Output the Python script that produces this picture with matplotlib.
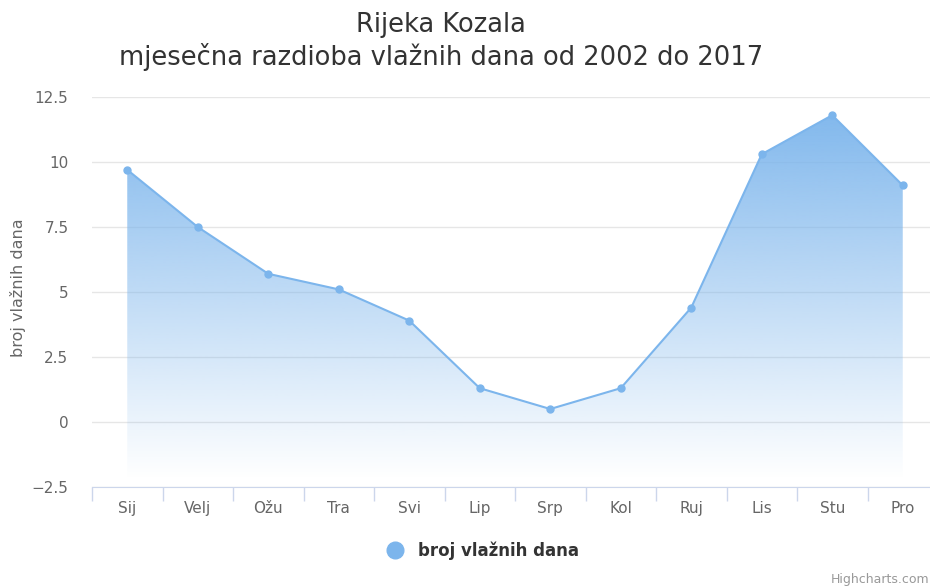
import matplotlib
matplotlib.use("Agg")
import matplotlib.pyplot as plt
import numpy as np
from matplotlib.patches import Polygon
from matplotlib.lines import Line2D

months = ["Sij", "Velj", "Ožu", "Tra", "Svi", "Lip", "Srp", "Kol", "Ruj", "Lis", "Stu", "Pro"]
wet_days = [9.7, 7.5, 5.7, 5.1, 3.9, 1.3, 0.5, 1.3, 4.4, 10.3, 11.8, 9.1]
y_ticks = [-2.5, 0, 2.5, 5, 7.5, 10, 12.5]
y_tick_labels = ["−2.5", "0", "2.5", "5", "7.5", "10", "12.5"]

line_color = "#7cb5ec"
plt.rcParams['font.family'] = ['DejaVu Sans']

fig = plt.figure(figsize=(9.3, 5.87), dpi=100)
# plot area runs a little past the right edge, as in the cropped screenshot
ax = fig.add_axes([92/930, 1 - 487/587, 846/930, 390/587])

x = np.arange(len(months))
ax.set_xlim(-0.5, len(months) - 0.5)
ax.set_ylim(-2.5, 12.5)

# gradient area, fading out below zero
fill_bottom = -2.2
top = max(wet_days)
grad = np.linspace(1, 0, 256).reshape(-1, 1)
rgba = np.zeros((256, 1, 4))
rgba[..., :3] = matplotlib.colors.to_rgb(line_color)
rgba[..., 3] = 0.95 * grad
im = ax.imshow(rgba, extent=[x[0], x[-1], fill_bottom, top], aspect="auto",
               origin="upper", zorder=2, interpolation="bilinear")
verts = [(x[0], fill_bottom)] + list(zip(x, wet_days)) + [(x[-1], fill_bottom)]
clip = Polygon(verts, closed=True, transform=ax.transData, facecolor="none", edgecolor="none")
ax.add_patch(clip)
im.set_clip_path(clip)

ax.plot(x, wet_days, color=line_color, lw=1.5, marker="o", ms=5, zorder=3)

ax.set_yticks(y_ticks)
ax.set_yticklabels(y_tick_labels)
ax.yaxis.grid(True, color="#e6e6e6", lw=1)
ax.set_axisbelow(True)
ax.tick_params(axis="y", length=0, pad=17, labelsize=11, labelcolor="#666666")

ax.set_xticks(x)
ax.set_xticklabels(months)
ax.tick_params(axis="x", which="major", length=0, pad=10, labelsize=11, labelcolor="#666666")
ax.set_xticks(np.arange(-0.5, len(months), 1), minor=True)
ax.tick_params(axis="x", which="minor", length=10, color="#ccd6eb", width=1)

for s in ["top", "right", "left"]:
    ax.spines[s].set_visible(False)
ax.spines["bottom"].set_color("#ccd6eb")
ax.spines["bottom"].set_zorder(4)

ax.set_ylabel("broj vlažnih dana", fontsize=11.5, color="#666666")
ax.yaxis.set_label_coords(-66/846, 0.51)

fig.text(441/930, 1 - 25/587, "Rijeka Kozala", ha="center", va="center", fontsize=18.5, color="#333333")
fig.text(441/930, 1 - 57/587, "mjesečna razdioba vlažnih dana od 2002 do 2017", ha="center",
         va="center", fontsize=18.5, color="#333333")

handle = Line2D([], [], color=line_color, marker="o", ls="none", ms=12)
fig.legend([handle], ["broj vlažnih dana"], loc="center", bbox_to_anchor=(0.515, 1 - 551/587),
           frameon=False, prop={"size": 12, "weight": "bold"}, labelcolor="#333333",
           handletextpad=0.4)

fig.text(0.999, 1 - 580/587, "Highcharts.com", ha="right", va="center", fontsize=9, color="#999999")

fig.savefig("out.png", dpi=100)
